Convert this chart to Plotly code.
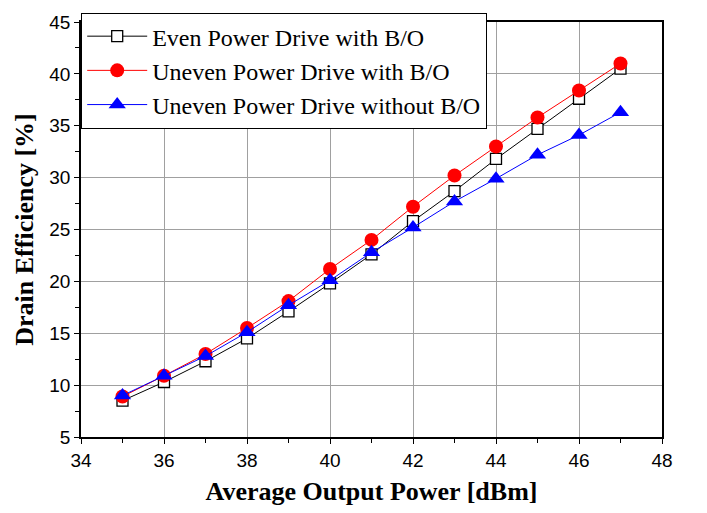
import plotly.graph_objects as go

power_dbm = [35, 36, 37, 38, 39, 40, 41, 42, 43, 44, 45, 46, 47]
even_bo = [8.5, 10.3, 12.3, 14.5, 17.1, 19.8, 22.6, 25.8, 28.7, 31.8, 34.7, 37.6, 40.5]
uneven_bo = [8.9, 10.9, 13.0, 15.5, 18.1, 21.2, 24.0, 27.2, 30.2, 33.0, 35.8, 38.4, 41.0]
uneven_no_bo = [9.0, 10.9, 12.8, 15.1, 17.7, 20.1, 22.8, 25.2, 27.7, 29.9, 32.2, 34.1, 36.3]

names = ["Even Power Drive with B/O", "Uneven Power Drive with B/O", "Uneven Power Drive without B/O"]

fig = go.Figure()
fig.add_trace(go.Scatter(
    x=power_dbm, y=even_bo, name=names[0], mode="lines+markers",
    line=dict(color="black", width=1),
    marker=dict(symbol="square", size=11, color="white", line=dict(color="black", width=1.3)),
))
fig.add_trace(go.Scatter(
    x=power_dbm, y=uneven_bo, name=names[1], mode="lines+markers",
    line=dict(color="red", width=1),
    marker=dict(symbol="circle", size=14, color="red", line=dict(width=0)),
))
fig.add_trace(go.Scatter(
    x=power_dbm, y=uneven_no_bo, name=names[2], mode="lines+markers",
    line=dict(color="blue", width=1),
    marker=dict(symbol="triangle-up", size=15, color="blue", line=dict(width=0)),
))

axis_common = dict(
    showline=True, linecolor="black", linewidth=1.5, mirror=True,
    showgrid=True, gridcolor="#a0a0a0", gridwidth=1,
    ticks="outside", ticklen=5, tickcolor="black", tickwidth=1.3,
    tickfont=dict(family="Liberation Sans, Arial", size=19, color="black"),
    zeroline=False,
)

fig.update_xaxes(
    range=[34, 48], tick0=34, dtick=2,
    minor=dict(ticks="outside", ticklen=4, dtick=1, tickcolor="black", tickwidth=1.3, showgrid=False),
    title=dict(text="<b>Average Output Power [dBm]</b>", standoff=12,
               font=dict(family="Liberation Serif, Times New Roman", size=26, color="black")),
    **axis_common,
)
fig.update_yaxes(
    range=[5, 45], tick0=5, dtick=5,
    minor=dict(ticks="outside", ticklen=4, dtick=2.5, tickcolor="black", tickwidth=1.3, showgrid=False),
    title=dict(text="<b>Drain Efficiency [%]</b>", standoff=8,
               font=dict(family="Liberation Serif, Times New Roman", size=26, color="black")),
    **axis_common,
)

fig.update_layout(
    width=707, height=513,
    margin=dict(l=81, r=45, t=13, b=74),
    plot_bgcolor="white", paper_bgcolor="white",
    showlegend=True,
    legend=dict(
        x=0, y=1.022, xanchor="left", yanchor="top",
        bgcolor="white", bordercolor="black", borderwidth=1.2,
        font=dict(family="Liberation Serif, Times New Roman", size=24, color="black"),
        itemwidth=60, tracegroupgap=0,
    ),
)

fig.write_html("out.html")
